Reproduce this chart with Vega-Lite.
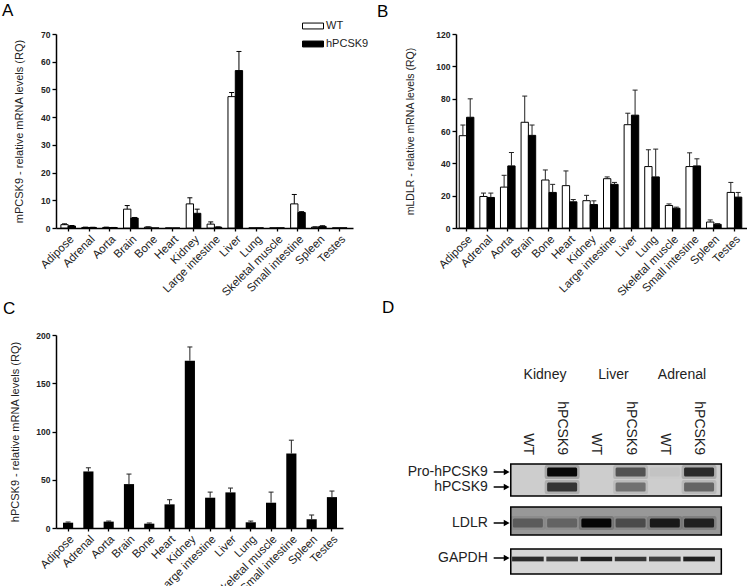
{
  "$schema": "https://vega.github.io/schema/vega-lite/v6.json",
  "background": "white",
  "padding": {"left": 2, "top": 2, "right": 0, "bottom": 0},
  "columns": 2,
  "spacing": {"row": 107, "column": 103},
  "bounds": "flush",
  "config": {
    "font": "Liberation Sans",
    "view": {"stroke": null},
    "axis": {"domainColor": "black", "domainWidth": 1.5, "tickColor": "black", "tickWidth": 1.3, "labelColor": "#222", "titleColor": "#222", "titleFontWeight": "normal", "grid": false, "labelFont": "Liberation Sans", "titleFont": "Liberation Sans"},
    "axisY": {"labelFontWeight": "bold", "labelFontSize": 8.5, "tickSize": 4, "labelPadding": 2, "titleFontSize": 11, "labelOverlap": false},
    "axisX": {"labelAngle": -45, "labelFontSize": 11.5, "tickSize": 3, "labelPadding": 2, "title": null},
    "title": {"fontSize": 17, "fontWeight": "normal", "color": "black", "anchor": "start", "frame": "group"}
  },
  "resolve": {"scale": {"color": "independent", "opacity": "independent"}, "legend": {"color": "independent"}},
  "datasets": {
    "a": [
      {"tissue": "Adipose", "group": "WT", "value": 1.2, "upper": 1.5},
      {"tissue": "Adipose", "group": "hPCSK9", "value": 0.7, "upper": 0.9},
      {"tissue": "Adrenal", "group": "WT", "value": 0.2, "upper": 0.3},
      {"tissue": "Adrenal", "group": "hPCSK9", "value": 0.2, "upper": 0.25},
      {"tissue": "Aorta", "group": "WT", "value": 0.2, "upper": 0.3},
      {"tissue": "Aorta", "group": "hPCSK9", "value": 0.15, "upper": 0.2},
      {"tissue": "Brain", "group": "WT", "value": 6.8, "upper": 8.1},
      {"tissue": "Brain", "group": "hPCSK9", "value": 3.6, "upper": 3.8},
      {"tissue": "Bone", "group": "WT", "value": 0.3, "upper": 0.4},
      {"tissue": "Bone", "group": "hPCSK9", "value": 0.0, "upper": 0.0},
      {"tissue": "Heart", "group": "WT", "value": 0.0, "upper": 0.0},
      {"tissue": "Heart", "group": "hPCSK9", "value": 0.0, "upper": 0.0},
      {"tissue": "Kidney", "group": "WT", "value": 8.7, "upper": 10.9},
      {"tissue": "Kidney", "group": "hPCSK9", "value": 5.3, "upper": 6.8},
      {"tissue": "Large intestine", "group": "WT", "value": 1.4, "upper": 2.2},
      {"tissue": "Large intestine", "group": "hPCSK9", "value": 0.3, "upper": 0.4},
      {"tissue": "Liver", "group": "WT", "value": 47.4, "upper": 48.9},
      {"tissue": "Liver", "group": "hPCSK9", "value": 56.8, "upper": 63.7},
      {"tissue": "Lung", "group": "WT", "value": 0.05, "upper": 0.05},
      {"tissue": "Lung", "group": "hPCSK9", "value": 0.05, "upper": 0.05},
      {"tissue": "Skeletal muscle", "group": "WT", "value": 0.05, "upper": 0.05},
      {"tissue": "Skeletal muscle", "group": "hPCSK9", "value": 0.05, "upper": 0.05},
      {"tissue": "Small intestine", "group": "WT", "value": 8.7, "upper": 12.1},
      {"tissue": "Small intestine", "group": "hPCSK9", "value": 5.6, "upper": 5.9},
      {"tissue": "Spleen", "group": "WT", "value": 0.3, "upper": 0.4},
      {"tissue": "Spleen", "group": "hPCSK9", "value": 0.6, "upper": 0.8},
      {"tissue": "Testes", "group": "WT", "value": 0.05, "upper": 0.05},
      {"tissue": "Testes", "group": "hPCSK9", "value": 0.05, "upper": 0.05}
    ],
    "b": [
      {"tissue": "Adipose", "group": "WT", "value": 57.1, "upper": 63.7},
      {"tissue": "Adipose", "group": "hPCSK9", "value": 68.5, "upper": 79.9},
      {"tissue": "Adrenal", "group": "WT", "value": 19.5, "upper": 21.6},
      {"tissue": "Adrenal", "group": "hPCSK9", "value": 18.9, "upper": 21.6},
      {"tissue": "Aorta", "group": "WT", "value": 25.3, "upper": 32.6},
      {"tissue": "Aorta", "group": "hPCSK9", "value": 38.4, "upper": 46.7},
      {"tissue": "Brain", "group": "WT", "value": 65.4, "upper": 81.6},
      {"tissue": "Brain", "group": "hPCSK9", "value": 57.3, "upper": 63.7},
      {"tissue": "Bone", "group": "WT", "value": 29.7, "upper": 35.9},
      {"tissue": "Bone", "group": "hPCSK9", "value": 22.0, "upper": 27.0},
      {"tissue": "Heart", "group": "WT", "value": 26.2, "upper": 35.3},
      {"tissue": "Heart", "group": "hPCSK9", "value": 16.2, "upper": 17.6},
      {"tissue": "Kidney", "group": "WT", "value": 16.9, "upper": 20.2},
      {"tissue": "Kidney", "group": "hPCSK9", "value": 14.5, "upper": 16.8},
      {"tissue": "Large intestine", "group": "WT", "value": 30.5, "upper": 31.6},
      {"tissue": "Large intestine", "group": "hPCSK9", "value": 27.0, "upper": 28.2},
      {"tissue": "Liver", "group": "WT", "value": 63.9, "upper": 71.0},
      {"tissue": "Liver", "group": "hPCSK9", "value": 69.8, "upper": 85.3},
      {"tissue": "Lung", "group": "WT", "value": 38.0, "upper": 48.4},
      {"tissue": "Lung", "group": "hPCSK9", "value": 31.6, "upper": 48.8},
      {"tissue": "Skeletal muscle", "group": "WT", "value": 13.9, "upper": 14.9},
      {"tissue": "Skeletal muscle", "group": "hPCSK9", "value": 12.2, "upper": 12.9},
      {"tissue": "Small intestine", "group": "WT", "value": 38.0, "upper": 46.5},
      {"tissue": "Small intestine", "group": "hPCSK9", "value": 38.4, "upper": 42.8},
      {"tissue": "Spleen", "group": "WT", "value": 3.7, "upper": 5.0},
      {"tissue": "Spleen", "group": "hPCSK9", "value": 2.3, "upper": 2.7},
      {"tissue": "Testes", "group": "WT", "value": 22.0, "upper": 28.2},
      {"tissue": "Testes", "group": "hPCSK9", "value": 19.1, "upper": 22.0}
    ],
    "c": [
      {"tissue": "Adipose", "value": 5.5, "upper": 6.2},
      {"tissue": "Adrenal", "value": 58.6, "upper": 62.4},
      {"tissue": "Aorta", "value": 6.6, "upper": 7.2},
      {"tissue": "Brain", "value": 45.5, "upper": 55.9},
      {"tissue": "Bone", "value": 4.5, "upper": 5.2},
      {"tissue": "Heart", "value": 24.5, "upper": 29.3},
      {"tissue": "Kidney", "value": 173.4, "upper": 187.6},
      {"tissue": "Large intestine", "value": 31.4, "upper": 37.2},
      {"tissue": "Liver", "value": 36.9, "upper": 41.4},
      {"tissue": "Lung", "value": 5.9, "upper": 7.2},
      {"tissue": "Skeletal muscle", "value": 26.2, "upper": 37.2},
      {"tissue": "Small intestine", "value": 77.2, "upper": 91.0},
      {"tissue": "Spleen", "value": 9.0, "upper": 13.4},
      {"tissue": "Testes", "value": 32.0, "upper": 38.3}
    ],
    "boxes": [
      {"strip": "PCSK9", "top": 12.9, "bottom": 16.1},
      {"strip": "LDLR", "top": 17.2, "bottom": 20.0},
      {"strip": "GAPDH", "top": 21.4, "bottom": 23.9}
    ],
    "bands": [
      {"band": "pro", "lane": 2, "y": 13.7, "intensity": 0.95},
      {"band": "pro", "lane": 4, "y": 13.7, "intensity": 0.55},
      {"band": "pro", "lane": 5, "y": 13.7, "intensity": 0.04},
      {"band": "pro", "lane": 6, "y": 13.7, "intensity": 0.75},
      {"band": "mature", "lane": 2, "y": 15.2, "intensity": 0.7},
      {"band": "mature", "lane": 4, "y": 15.2, "intensity": 0.4},
      {"band": "mature", "lane": 6, "y": 15.2, "intensity": 0.45},
      {"band": "ldlr", "lane": 1, "y": 18.8, "intensity": 0.35},
      {"band": "ldlr", "lane": 2, "y": 18.8, "intensity": 0.3},
      {"band": "ldlr", "lane": 3, "y": 18.8, "intensity": 0.95},
      {"band": "ldlr", "lane": 4, "y": 18.8, "intensity": 0.45},
      {"band": "ldlr", "lane": 5, "y": 18.8, "intensity": 0.8},
      {"band": "ldlr", "lane": 6, "y": 18.8, "intensity": 0.75},
      {"band": "gapdh", "lane": 1, "y": 22.4, "intensity": 0.8},
      {"band": "gapdh", "lane": 2, "y": 22.4, "intensity": 0.7},
      {"band": "gapdh", "lane": 3, "y": 22.4, "intensity": 0.85},
      {"band": "gapdh", "lane": 4, "y": 22.4, "intensity": 0.75},
      {"band": "gapdh", "lane": 5, "y": 22.4, "intensity": 0.7},
      {"band": "gapdh", "lane": 6, "y": 22.4, "intensity": 0.85}
    ],
    "dlabels": [
      {"label": "Pro-hPCSK9", "y": 13.7},
      {"label": "hPCSK9", "y": 15.2},
      {"label": "LDLR", "y": 18.8},
      {"label": "GAPDH", "y": 22.3}
    ],
    "headers": [
      {"tissue": "Kidney", "lane": 1.5},
      {"tissue": "Liver", "lane": 3.5},
      {"tissue": "Adrenal", "lane": 5.5}
    ],
    "lanes": [
      {"lane": 1, "genotype": "WT"},
      {"lane": 2, "genotype": "hPCSK9"},
      {"lane": 3, "genotype": "WT"},
      {"lane": 4, "genotype": "hPCSK9"},
      {"lane": 5, "genotype": "WT"},
      {"lane": 6, "genotype": "hPCSK9"}
    ]
  },
  "concat": [
    {
      "width": 297, "height": 194,
      "title": {"text": "A", "dx": -54, "offset": -5},
      "data": {"name": "a"},
      "encoding": {
        "x": {"field": "tissue", "type": "nominal", "sort": null, "scale": {"paddingInner": 0.3, "paddingOuter": 0.26, "align": 0.45}},
        "xOffset": {"field": "group", "type": "nominal", "sort": ["WT", "hPCSK9"], "scale": {"paddingInner": 0, "paddingOuter": 0}}
      },
      "layer": [
        {
          "mark": {"type": "bar", "stroke": "black", "strokeWidth": 1},
          "encoding": {
            "y": {"field": "value", "type": "quantitative", "title": "mPCSK9 - relative mRNA levels (RQ)", "scale": {"domain": [0, 70], "nice": false}, "axis": {"values": [0, 10, 20, 30, 40, 50, 60, 70], "tickCount": 8, "titlePadding": 16, "labelOverlap": false}},
            "color": {"field": "group", "type": "nominal", "scale": {"domain": ["WT", "hPCSK9"], "range": ["white", "black"]},
              "legend": {"title": null, "orient": "none", "legendX": 246, "legendY": -19, "symbolType": "M-1,-0.28H1V0.28H-1Z", "symbolSize": 441, "symbolStrokeColor": "black", "symbolStrokeWidth": 1, "labelFontSize": 11, "labelColor": "#222", "labelFont": "Liberation Sans", "rowPadding": 2, "labelOffset": 2}}
          }
        },
        {
          "transform": [{"filter": "datum.upper > datum.value"}],
          "mark": {"type": "rule", "color": "black", "strokeWidth": 1},
          "encoding": {"y": {"field": "value", "type": "quantitative", "title": "mPCSK9 - relative mRNA levels (RQ)", "axis": {"values": [0, 10, 20, 30, 40, 50, 60, 70], "tickCount": 8, "titlePadding": 16, "labelOverlap": false}}, "y2": {"field": "upper"}}
        },
        {
          "transform": [{"filter": "datum.upper > datum.value"}],
          "mark": {"type": "tick", "size": 5, "thickness": 1, "color": "black", "opacity": 1},
          "encoding": {"y": {"field": "upper", "type": "quantitative", "title": "mPCSK9 - relative mRNA levels (RQ)", "axis": {"values": [0, 10, 20, 30, 40, 50, 60, 70], "tickCount": 8, "titlePadding": 16, "labelOverlap": false}}}
        }
      ]
    },
    {
      "width": 291, "height": 194,
      "title": {"text": "B", "dx": -79, "offset": 9},
      "data": {"name": "b"},
      "encoding": {
        "x": {"field": "tissue", "type": "nominal", "sort": null, "scale": {"paddingInner": 0.3, "paddingOuter": 0.21, "align": 0.375}},
        "xOffset": {"field": "group", "type": "nominal", "sort": ["WT", "hPCSK9"], "scale": {"paddingInner": 0, "paddingOuter": 0}}
      },
      "layer": [
        {
          "mark": {"type": "bar", "stroke": "black", "strokeWidth": 1},
          "encoding": {
            "y": {"field": "value", "type": "quantitative", "title": "mLDLR - relative mRNA levels (RQ)", "scale": {"domain": [0, 120], "nice": false}, "axis": {"values": [0, 20, 40, 60, 80, 100, 120], "tickCount": 7, "titlePadding": 20, "titleFontSize": 10.5, "labelOverlap": false}},
            "color": {"field": "group", "type": "nominal", "scale": {"domain": ["WT", "hPCSK9"], "range": ["white", "black"]}, "legend": null}
          }
        },
        {
          "mark": {"type": "rule", "color": "#222", "strokeWidth": 1},
          "encoding": {"y": {"field": "value", "type": "quantitative", "title": "mLDLR - relative mRNA levels (RQ)", "axis": {"values": [0, 20, 40, 60, 80, 100, 120], "tickCount": 7, "titlePadding": 20, "titleFontSize": 10.5, "labelOverlap": false}}, "y2": {"field": "upper"}}
        },
        {
          "mark": {"type": "tick", "size": 5, "thickness": 1, "color": "#222", "opacity": 1},
          "encoding": {"y": {"field": "upper", "type": "quantitative", "title": "mLDLR - relative mRNA levels (RQ)", "axis": {"values": [0, 20, 40, 60, 80, 100, 120], "tickCount": 7, "titlePadding": 20, "titleFontSize": 10.5, "labelOverlap": false}}}
        }
      ]
    },
    {
      "width": 287, "height": 193,
      "title": {"text": "C", "dx": -53, "offset": 13},
      "data": {"name": "c"},
      "encoding": {
        "x": {"field": "tissue", "type": "nominal", "sort": null, "scale": {"paddingInner": 0.5, "paddingOuter": 0.32, "align": 0.54}}
      },
      "layer": [
        {
          "mark": {"type": "bar", "color": "black"},
          "encoding": {
            "y": {"field": "value", "type": "quantitative", "title": "hPCSK9 - relative mRNA levels (RQ)", "scale": {"domain": [0, 200], "nice": false}, "axis": {"values": [0, 50, 100, 150, 200], "titlePadding": 15, "labelOverlap": false}}
          }
        },
        {
          "mark": {"type": "rule", "color": "#222", "strokeWidth": 1},
          "encoding": {"y": {"field": "value", "type": "quantitative", "title": "hPCSK9 - relative mRNA levels (RQ)", "axis": {"values": [0, 50, 100, 150, 200], "titlePadding": 15, "labelOverlap": false}}, "y2": {"field": "upper"}}
        },
        {
          "mark": {"type": "tick", "size": 5, "thickness": 1, "color": "#222", "opacity": 1},
          "encoding": {"y": {"field": "upper", "type": "quantitative", "title": "hPCSK9 - relative mRNA levels (RQ)", "axis": {"values": [0, 50, 100, 150, 200], "titlePadding": 15, "labelOverlap": false}}}
        }
      ]
    },
    {
      "width": 291, "height": 240,
      "title": {"text": "D", "dx": -74, "offset": 18},
      "layer": [
        {
          "data": {"name": "boxes"},
          "mark": {"type": "rect", "stroke": "black", "strokeWidth": 1.5},
          "encoding": {
            "x": {"datum": 0.5, "type": "quantitative", "scale": {"domain": [-1.1, 7.4], "nice": false, "zero": false}, "axis": null},
            "x2": {"datum": 6.65},
            "y": {"field": "top", "type": "quantitative", "scale": {"domain": [0, 24], "reverse": true, "nice": false, "zero": false}, "axis": null},
            "y2": {"field": "bottom"},
            "color": {"field": "strip", "type": "nominal", "scale": {"domain": ["PCSK9", "LDLR", "GAPDH"], "range": ["#cdcdcd", "#989898", "#d6d6d6"]}, "legend": null}
          }
        },
        {
          "data": {"name": "bands"},
          "transform": [{"filter": "datum.band != 'gapdh'"}],
          "mark": {"type": "point", "filled": true, "color": "black", "size": 1225, "shape": "M-0.9,-0.4L0.9,-0.4Q1,-0.4 1,-0.25L1,0.25Q1,0.4 0.9,0.4L-0.9,0.4Q-1,0.4 -1,0.25L-1,-0.25Q-1,-0.4 -0.9,-0.4Z"},
          "encoding": {
            "x": {"field": "lane", "type": "quantitative"},
            "y": {"field": "y", "type": "quantitative"},
            "fillOpacity": {"field": "intensity", "type": "quantitative", "scale": {"domain": [0, 1], "range": [0, 0.3]}, "legend": null}
          }
        },
        {
          "data": {"name": "bands"},
          "transform": [{"filter": "datum.band == 'pro' || datum.band == 'mature'"}],
          "mark": {"type": "point", "filled": true, "color": "black", "size": 900, "shape": "M-0.92,-0.3L0.92,-0.3Q1,-0.3 1,-0.2L1,0.2Q1,0.3 0.92,0.3L-0.92,0.3Q-1,0.3 -1,0.2L-1,-0.2Q-1,-0.3 -0.92,-0.3Z"},
          "encoding": {
            "x": {"field": "lane", "type": "quantitative"},
            "y": {"field": "y", "type": "quantitative"},
            "opacity": {"field": "intensity", "type": "quantitative", "scale": {"domain": [0, 1], "range": [0, 1]}, "legend": null}
          }
        },
        {
          "data": {"name": "bands"},
          "transform": [{"filter": "datum.band == 'ldlr'"}],
          "mark": {"type": "point", "filled": true, "color": "black", "size": 900, "shape": "M-0.92,-0.3L0.92,-0.3Q1,-0.3 1,-0.2L1,0.2Q1,0.3 0.92,0.3L-0.92,0.3Q-1,0.3 -1,0.2L-1,-0.2Q-1,-0.3 -0.92,-0.3Z"},
          "encoding": {
            "x": {"field": "lane", "type": "quantitative"},
            "y": {"field": "y", "type": "quantitative"},
            "opacity": {"field": "intensity", "type": "quantitative", "scale": {"domain": [0, 1], "range": [0, 1]}, "legend": null}
          }
        },
        {
          "data": {"name": "bands"},
          "transform": [{"filter": "datum.band == 'gapdh'"}],
          "mark": {"type": "point", "filled": true, "color": "black", "size": 1000, "shape": "M-1,-0.15L1,-0.15L1,0.15L-1,0.15Z"},
          "encoding": {
            "x": {"field": "lane", "type": "quantitative"},
            "y": {"field": "y", "type": "quantitative"},
            "opacity": {"field": "intensity", "type": "quantitative", "scale": {"domain": [0, 1], "range": [0, 1]}, "legend": null}
          }
        },
        {
          "data": {"name": "dlabels"},
          "mark": {"type": "rule", "color": "black", "strokeWidth": 1.5},
          "encoding": {
            "x": {"datum": 0.0, "type": "quantitative"},
            "x2": {"datum": 0.4},
            "y": {"field": "y", "type": "quantitative"}
          }
        },
        {
          "data": {"name": "dlabels"},
          "mark": {"type": "point", "shape": "triangle-right", "filled": true, "size": 45, "color": "black", "opacity": 1},
          "encoding": {
            "x": {"datum": 0.38, "type": "quantitative"},
            "y": {"field": "y", "type": "quantitative"}
          }
        },
        {
          "data": {"name": "dlabels"},
          "mark": {"type": "text", "align": "right", "baseline": "middle", "fontSize": 14, "color": "#222", "font": "Liberation Sans"},
          "encoding": {
            "x": {"datum": -0.17, "type": "quantitative"},
            "y": {"field": "y", "type": "quantitative"},
            "text": {"field": "label"}
          }
        },
        {
          "data": {"name": "headers"},
          "mark": {"type": "text", "align": "center", "baseline": "middle", "fontSize": 14, "color": "#222", "font": "Liberation Sans"},
          "encoding": {
            "x": {"field": "lane", "type": "quantitative"},
            "y": {"datum": 4.0, "type": "quantitative"},
            "text": {"field": "tissue"}
          }
        },
        {
          "data": {"name": "lanes"},
          "mark": {"type": "text", "align": "right", "baseline": "middle", "angle": 90, "fontSize": 14, "color": "#222", "font": "Liberation Sans"},
          "encoding": {
            "x": {"field": "lane", "type": "quantitative"},
            "y": {"datum": 12.0, "type": "quantitative"},
            "text": {"field": "genotype"}
          }
        }
      ]
    }
  ]
}
